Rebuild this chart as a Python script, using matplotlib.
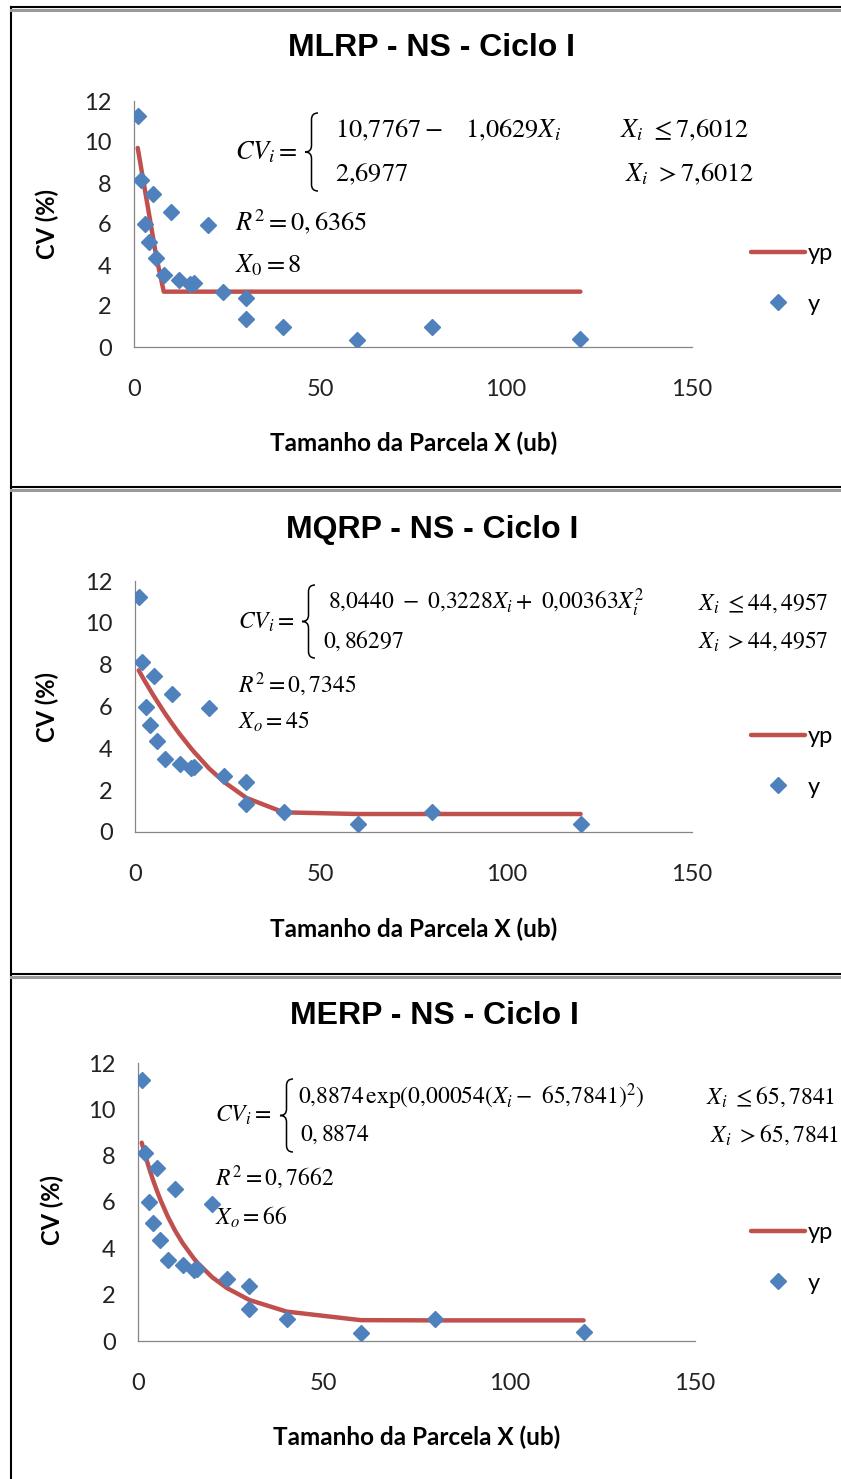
import matplotlib
matplotlib.use("Agg")
import matplotlib.pyplot as plt
from matplotlib.lines import Line2D
from matplotlib.path import Path
from matplotlib.patches import PathPatch

# data: plot size X (ub) and observed CV (%)
tamanho = [1, 2, 3, 4, 5, 6, 8, 10, 12, 15, 16, 20, 24, 30, 30, 40, 60, 80, 120]
cv_obs = [11.25, 8.13, 5.99, 5.11, 7.46, 4.36, 3.51, 6.58, 3.27, 3.06, 3.10,
          5.93, 2.66, 2.38, 1.36, 0.96, 0.36, 0.96, 0.38]

# fitted values (yp) of each model
yp_mlrp = [9.71, 8.65, 7.59, 6.53, 5.46, 4.40, 2.70, 2.70, 2.70, 2.70, 2.70,
           2.70, 2.70, 2.70, 2.70, 2.70, 2.70, 2.70, 2.70]
yp_mqrp = [7.73, 7.41, 7.11, 6.81, 6.52, 6.24, 5.69, 5.18, 4.69, 4.02, 3.81,
           3.03, 2.39, 1.63, 1.63, 0.94, 0.86, 0.86, 0.86]
yp_merp = [8.56, 7.99, 7.46, 6.97, 6.53, 6.11, 5.38, 4.76, 4.23, 3.57, 3.38,
           2.75, 2.28, 1.77, 1.77, 1.27, 0.90, 0.89, 0.89]

titulos = ["MLRP - NS - Ciclo I", "MQRP - NS - Ciclo I", "MERP - NS - Ciclo I"]

W, H = 841, 1479
RED = "#C0504D"
BLUE = "#4F81BD"

plt.rcParams["font.family"] = ["Lato", "DejaVu Sans"]
plt.rcParams["mathtext.fontset"] = "stix"

fig = plt.figure(figsize=(W / 100, H / 100), dpi=100)


def fx(x):
    return x / W


def fy(y):
    return 1 - y / H


def brace(x, y0, y1, w):
    # curly brace drawn in pixel coordinates, cusp pointing left
    m = (y0 + y1) / 2
    r = w / 2
    s = x + w / 2
    pts = [(x + w, y0), (s, y0), (s, y0 + r), (s, m - r), (s, m), (x, m),
           (s, m), (s, m + r), (s, y1 - r), (s, y1), (x + w, y1)]
    codes = [Path.MOVETO, Path.CURVE3, Path.CURVE3, Path.LINETO, Path.CURVE3,
             Path.CURVE3, Path.CURVE3, Path.CURVE3, Path.LINETO, Path.CURVE3,
             Path.CURVE3]
    path = Path([(fx(a), fy(b)) for a, b in pts], codes)
    fig.add_artist(PathPatch(path, fill=False, lw=1.1, color="black",
                             transform=fig.transFigure))


def eq(x, y, s, size):
    fig.text(fx(x), fy(y), s, fontsize=size, ha="left", va="center")


# panel layout in pixels: axes box, title, labels, legend
panels = [
    dict(box=(134, 101, 692, 347), title=(432, 48), ylab=(47, 224), xlab=(414, 443), leg=258, yp=yp_mlrp),
    dict(box=(135, 581, 692, 832), title=(432, 530), ylab=(47, 707), xlab=(414, 929), leg=741, yp=yp_mqrp),
    dict(box=(138, 1063, 695, 1341), title=(434, 1016), ylab=(52, 1210), xlab=(417, 1437), leg=1237, yp=yp_merp),
]

for p, titulo in zip(panels, titulos):
    l, t, r, b = p["box"]
    ax = fig.add_axes([fx(l), fy(b), (r - l) / W, (b - t) / H])
    ax.plot(tamanho, p["yp"], color=RED, lw=3.2, label="yp", solid_capstyle="round", zorder=2)
    ax.plot(tamanho, cv_obs, ls="none", marker="D", ms=8.5, color=BLUE, label="y", zorder=3)
    ax.set_xlim(0, 150)
    ax.set_ylim(0, 12)
    ax.set_xticks([0, 50, 100, 150])
    ax.set_yticks(range(0, 13, 2))
    for side in ("top", "right"):
        ax.spines[side].set_visible(False)
    for side in ("left", "bottom"):
        ax.spines[side].set_color("#868686")
        ax.spines[side].set_linewidth(0.9)
    ax.tick_params(axis="y", length=0, pad=16, labelsize=17, labelcolor="#222222")
    ax.tick_params(axis="x", length=0, pad=23, labelsize=17, labelcolor="#222222")
    ax.patch.set_alpha(0)

    fig.text(fx(p["title"][0]), fy(p["title"][1]), titulo, fontsize=23,
             fontweight="bold", family="Liberation Sans", ha="center", va="center")
    fig.text(fx(p["ylab"][0]), fy(p["ylab"][1]), "CV (%)", fontsize=17,
             fontweight="bold", rotation=90, ha="center", va="center")
    fig.text(fx(p["xlab"][0]), fy(p["xlab"][1]), "Tamanho da Parcela X (ub)",
             fontsize=17.5, fontweight="bold", ha="center", va="center")

    ax.legend(loc="upper left", bbox_to_anchor=(fx(751), fy(p["leg"] - 15)),
              bbox_transform=fig.transFigure, frameon=False, fontsize=17,
              handlelength=2.3, handletextpad=0.1, labelspacing=1.25,
              borderpad=0, borderaxespad=0)

# equations panel 1
eq(235, 152, r"$CV_i=$", 19)
brace(305, 113, 191, 13)
eq(335, 130, r"$10{,}7767-\quad 1{,}0629X_i$", 19)
eq(620, 130, r"$X_i\ \leq 7{,}6012$", 19)
eq(335, 174, r"$2{,}6977$", 19)
eq(625, 174, r"$X_i\ >7{,}6012$", 19)
eq(235, 222, r"$R^2=0,6365$", 19)
eq(235, 265, r"$X_0=8$", 19)

# equations panel 2
eq(238, 622, r"$CV_i=$", 17)
brace(302, 585, 658, 13)
eq(328, 603, r"$8{,}0440\ -\ 0{,}3228X_i+\ 0{,}00363X_i^2$", 17)
eq(698, 603, r"$X_i\ \leq 44,4957$", 17)
eq(323, 641, r"$0,86297$", 17)
eq(698, 641, r"$X_i\ >44,4957$", 17)
eq(238, 685, r"$R^2=0,7345$", 17)
eq(238, 722, r"$X_o=45$", 17)

# equations panel 3
eq(215, 1115, r"$CV_i=$", 17)
brace(280, 1079, 1152, 13)
eq(298, 1097, r"$0{,}8874\,\exp(0{,}00054(X_i-\ 65{,}7841)^2)$", 17)
eq(706, 1097, r"$X_i\ \leq 65,7841$", 17)
eq(300, 1135, r"$0,8874$", 17)
eq(710, 1135, r"$X_i\ >65,7841$", 17)
eq(215, 1178, r"$R^2=0,7662$", 17)
eq(215, 1217, r"$X_o=66$", 17)

# panel borders
fig.add_artist(Line2D([fx(11), fx(11)], [fy(7), 0], color="black", lw=1.5,
                      transform=fig.transFigure))
for yb in (7, 487, 974):
    fig.add_artist(Line2D([fx(11), 1], [fy(yb + 3), fy(yb + 3)], color="#9a9a9a",
                          lw=2.2, transform=fig.transFigure))
    fig.add_artist(Line2D([fx(11), 1], [fy(yb), fy(yb)], color="black", lw=1.5,
                          transform=fig.transFigure))

fig.savefig("out.png", dpi=100)
